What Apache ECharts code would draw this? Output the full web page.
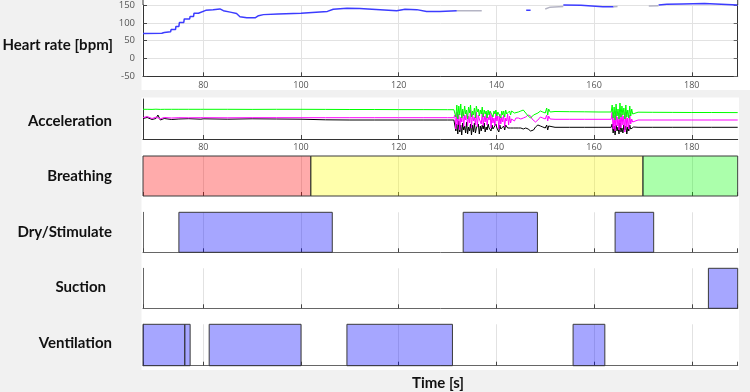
<!DOCTYPE html>
<html><head><meta charset="utf-8">
<script src="https://cdn.jsdelivr.net/npm/echarts@6/dist/echarts.min.js"></script>
<style>html,body{margin:0;padding:0;background:#f1f1f1}#c{width:750px;height:392px}</style>
</head><body><div id="c"></div>
<script>
// ---- axes ----
const xMin = 67.65, xMax = 189.4;
const xTickLabels = [80, 100, 120, 140, 160, 180];
const hrTicks = [-50, 0, 50, 100, 150];
const accRange = [0, 40];

// ---- heart rate [time, bpm]; null breaks the line ----
const hrBlue = [[67.65,70],[71.5,71],[71.6,73],[72,73],[72.1,75],[73.3,75],[73.4,81],[74.3,81],[74.4,90],[75,90],[75.1,101],[76,101],[76.1,111],[77.2,111],[77.3,118],[78,118],[78.1,127],[79,127],[79.1,132],[80.5,135],[82,137],[83.4,139],[84.1,134],[85.5,130],[86.8,126],[87,122],[87.5,117],[88.9,114],[90.6,114],[91.3,120],[92.3,123],[95.3,125],[100,127],[105.4,132],[106.6,138],[109.4,141],[112,140],[116.2,137],[119.6,134],[121.3,138],[123.7,137],[125.7,132],[128.4,132],[131.9,134],[140,null],[146.1,135],[147,135],[150,null],[153.7,150],[157.3,149],[161.8,145],[164,145],[168,null],[173.2,150],[174.9,152],[178,153],[182.6,154],[186,152],[189.4,150]];
const hrGray = [[131.9,134],[137,134],[140,null],[150,139],[151,144],[153.7,146],[158,null],[164,145],[164.8,146],[168,null],[171.2,147],[173.2,148]];

// ---- acceleration ----
const accT = [
 67.65,68.5,69.5,70.3,70.7,71.2,72,73.5,75,77,79.5,79.7,80,85,90,95,100,105,110,115,120,125,130,131.3,
 131.5,131.7,131.9,132.1,132.3,132.5,132.7,132.9,133.1,133.3,
 133.5,133.7,133.9,134.1,134.3,134.5,134.7,134.9,135.1,135.3,
 135.5,135.7,135.9,136.1,136.3,136.5,136.7,136.9,137.1,137.3,
 137.5,137.7,137.9,138.1,138.3,138.5,138.7,138.9,139.1,139.3,
 139.5,139.7,139.9,140.1,140.3,140.5,140.7,140.9,141.1,141.3,
 141.5,141.7,141.9,142.1,142.3,142.5,142.7,142.9,143.1,143.3,
 143.5,143.7,
 144,144.5,145,145.5,146,146.5,147,147.3,147.6,148,148.5,149,149.5,150,150.3,150.5,150.7,151,
 152,155,158,161,163.5,
 163.7,163.9,164.1,164.3,164.5,164.7,164.9,165.1,165.3,165.5,
 165.7,165.9,166.1,166.3,166.5,166.7,166.9,167.1,167.3,167.5,
 167.7,167.9,168.1,
 169,172,176,180,184,189.4];
const accGreen = [
 29.7,29.7,29.6,29.8,29.7,29.6,29.7,29.7,29.7,29.7,29.7,31.5,29.7,29.7,29.6,29.7,29.7,29.6,29.5,29.5,29.4,29.4,29.3,29.3,
 31,22,34,20,33,24,35,21,30,23,
 33,25,29,20,32,26,34,22,28,24,
 31,21,33,27,30,23,29,25,32,22,
 29,25,28,21,29,24,28,26,29,22,
 28,25,29,23,27,26,29,21,28,24,
 28,22,29,25,27,23,28,24,28,26,
 27,26,
 27,27,28,29,26,23,21,22,24,25,26,28,27,26,31,24,30,27,
 27.5,27.3,27.2,27,27,
 34,21,32,19,35,23,30,20,36,22,
 33,24,31,20,34,22,29,21,33,23,
 30,25,27,
 26.8,26.7,26.6,26.5,26.5,26.4];
const accMagenta = [
 21.3,22.5,20.5,21.8,23,20.2,21.5,21,21.3,21.2,21.3,21.3,21.3,21.2,21.3,21.3,21.3,21.3,21.3,21.3,21.3,21.3,21.3,21.3,
 24,10,27,14,25,9,22,17,28,12,
 24,19,26,13,23,16,29,11,25,18,
 22,14,27,12,24,20,21,15,26,13,
 23,17,25,14,22,19,27,11,24,16,
 21,13,26,18,23,10,25,15,22,17,
 24,12,21,18,25,14,23,16,20,19,
 22,18,
 21,21,20,21,22,24,23,20,18,17,19,22,21,20,24,18,23,20,
 19.7,19.7,19.7,19.7,19.7,
 27,10,24,8,28,13,22,9,26,11,
 25,14,23,7,27,12,21,10,24,15,
 20,17,19,
 19,19,19,19,19,19];
const accBlack = [
 20.5,21.5,19.5,20.5,24,19,20.5,19.5,20,20.3,19.8,20,20.2,19.8,20.2,20,19.8,19.2,19,19,19,19,19,19,
 17,8,15,5,18,7,14,4,16,9,
 13,6,17,5,12,8,15,4,14,7,
 16,6,11,9,15,5,13,8,14,10,
 16,7,12,9,15,11,13,8,14,10,
 12,9,15,11,13,7,14,10,12,11,
 13,9,14,12,11,10,13,11,12,12,
 11,12,
 11,11,11,10,11,10,8,6,9,12,14,13,12,11,14,9,13,11,
 11.7,11.7,11.7,11.7,11.7,
 15,6,13,4,14,8,12,5,16,7,
 11,6,14,9,13,5,12,8,14,10,
 12,11,12,
 11.7,11.7,11.7,11.7,11.7,11.7];

// ---- event intervals [s] ----
const breathingStart = [67.65, 102, 170];
const breathingEnd   = [102, 170, 189.4];
const breathingColors = ['rgba(255,0,0,0.33)', 'rgba(255,255,0,0.33)', 'rgba(0,255,0,0.33)'];
const dryStart = [75, 133.2, 164.3];
const dryEnd   = [106.4, 148.4, 172.2];
const suctionStart = [183.4];
const suctionEnd   = [189.4];
const ventStart = [67.65, 76.2, 81.2, 109.4, 155.7];
const ventEnd   = [76.2, 77.3, 100, 131, 162.2];

const panelLabels = ['Heart rate [bpm]', 'Acceleration', 'Breathing', 'Dry/Stimulate', 'Suction', 'Ventilation'];

// ---------------------------------------------------------------
const FONT = 'Open Sans';
const zip = (a, b) => a.map((v, i) => [v, b[i]]);
const intervals = (s, e) => s.map((v, i) => [v, e[i]]);

const grids = [
  {left: 143, top: 5, width: 594.7, height: 71.3},
  {left: 143, top: 99, width: 594.7, height: 40},
  {left: 143, top: 156, width: 594.7, height: 40},
  {left: 143, top: 212.3, width: 594.7, height: 40},
  {left: 143, top: 268.3, width: 594.7, height: 40},
  {left: 143, top: 324.3, width: 594.7, height: 41.4}
];

function makeX(gi, showLabel, margin, axisColor, showLine) {
  return {
    type: 'value', gridIndex: gi, min: xMin, max: xMax, splitNumber: 6,
    axisLine: {show: showLine, onZero: false, lineStyle: {color: axisColor, width: 1}},
    axisTick: {show: true, inside: true, length: 4, lineStyle: {color: '#444'}},
    axisLabel: {show: showLabel, fontSize: 9, color: '#555', fontFamily: FONT, margin: margin,
      showMinLabel: false, showMaxLabel: false,
      formatter: v => xTickLabels.indexOf(Math.round(v * 100) / 100) >= 0 ? String(v) : ''},
    splitLine: {show: true, showMinLine: false, showMaxLine: false, lineStyle: {color: '#e2e2e2', width: 1}}
  };
}
function makeY(gi, axisColor, showLine, range) {
  return {
    type: 'value', gridIndex: gi, min: range ? range[0] : 0, max: range ? range[1] : 1,
    axisLine: {show: showLine, onZero: false, lineStyle: {color: axisColor}},
    axisTick: {show: false}, axisLabel: {show: false}, splitLine: {show: false}
  };
}
function barRenderer(colors) {
  return function (params, api) {
    const s = api.value(0), e = api.value(1);
    const p0 = api.coord([s, 1]);
    const p1 = api.coord([e, 0]);
    return {
      type: 'rect',
      shape: {x: p0[0], y: p0[1], width: p1[0] - p0[0], height: p1[1] - p0[1]},
      style: {fill: colors ? colors[params.dataIndex] : 'rgba(0,0,255,0.35)', stroke: '#3a3a3a', lineWidth: 1}
    };
  };
}

const labelY = [45, 121, 176, 232, 287, 343];
const labelX = [113, 112, 112, 112, 106, 112];

const option = {
  backgroundColor: '#f1f1f1',
  animation: false,
  grid: grids,
  xAxis: [
    makeX(0, true, 5, '#333', true),
    makeX(1, true, 4, '#333', true),
    makeX(2, false, 4, '#555', false),
    makeX(3, false, 4, '#666', true),
    makeX(4, false, 4, '#666', true),
    makeX(5, false, 4, '#666', true)
  ],
  yAxis: [
    {type: 'value', gridIndex: 0, min: hrTicks[0], max: hrTicks[hrTicks.length - 1], interval: 50,
      axisLine: {show: true, onZero: false, lineStyle: {color: '#333'}},
      axisTick: {show: true, inside: true, length: 4, lineStyle: {color: '#444'}},
      axisLabel: {fontSize: 9.5, color: '#555', fontFamily: FONT, margin: 8},
      splitLine: {show: true, lineStyle: {color: '#e2e2e2'}}},
    {type: 'value', gridIndex: 0, position: 'right', min: hrTicks[0], max: hrTicks[hrTicks.length - 1], interval: 50,
      axisLine: {show: true, onZero: false, lineStyle: {color: '#333'}},
      axisTick: {show: true, inside: true, length: 4, lineStyle: {color: '#666'}},
      axisLabel: {show: false}, splitLine: {show: false}},
    makeY(1, '#333', true, accRange),
    makeY(2, '#555', false),
    makeY(3, '#666', true),
    makeY(4, '#666', true),
    makeY(5, '#666', true)
  ],
  graphic: [
    {type: 'rect', z: -100, shape: {x: 141.5, y: 0, width: 610, height: 90}, style: {fill: '#ffffff'}},
    {type: 'rect', z: -100, shape: {x: 141.5, y: 97.5, width: 597.5, height: 272.5}, style: {fill: '#ffffff'}},
    {type: 'line', z: 5, shape: {x1: 143, y1: 0, x2: 143, y2: 5}, style: {stroke: '#333', lineWidth: 1}},
    {type: 'line', z: 5, shape: {x1: 737.7, y1: 0, x2: 737.7, y2: 5}, style: {stroke: '#333', lineWidth: 1}},
    ...panelLabels.map((t, i) => ({type: 'text', z: 10,
      style: {text: t, x: labelX[i], y: labelY[i], textAlign: 'right', textVerticalAlign: 'middle',
        font: 'bold 15px Lato', fill: '#111'}})),
    {type: 'text', z: 10, style: {text: 'Time [s]', x: 438, y: 383, textAlign: 'center', textVerticalAlign: 'middle',
      font: 'bold 15px Lato', fill: '#111'}}
  ],
  series: [
    {type: 'line', xAxisIndex: 0, yAxisIndex: 0, data: hrBlue, showSymbol: false, clip: false, connectNulls: false,
      lineStyle: {color: '#3c3cff', width: 1.5}},
    {type: 'line', xAxisIndex: 0, yAxisIndex: 0, data: hrGray, showSymbol: false, clip: false, connectNulls: false,
      lineStyle: {color: '#b4b4c4', width: 1.5}},
    {type: 'line', xAxisIndex: 1, yAxisIndex: 2, data: zip(accT, accBlack), showSymbol: false,
      lineStyle: {color: '#000000', width: 1}},
    {type: 'line', xAxisIndex: 1, yAxisIndex: 2, data: zip(accT, accMagenta), showSymbol: false,
      lineStyle: {color: '#ff00ff', width: 1}},
    {type: 'line', xAxisIndex: 1, yAxisIndex: 2, data: zip(accT, accGreen), showSymbol: false,
      lineStyle: {color: '#00ff00', width: 1}},
    {type: 'custom', xAxisIndex: 2, yAxisIndex: 3, data: intervals(breathingStart, breathingEnd),
      renderItem: barRenderer(breathingColors)},
    {type: 'custom', xAxisIndex: 3, yAxisIndex: 4, data: intervals(dryStart, dryEnd), renderItem: barRenderer(null)},
    {type: 'custom', xAxisIndex: 4, yAxisIndex: 5, data: intervals(suctionStart, suctionEnd), renderItem: barRenderer(null)},
    {type: 'custom', xAxisIndex: 5, yAxisIndex: 6, data: intervals(ventStart, ventEnd), renderItem: barRenderer(null)}
  ]
};
const chart = echarts.init(document.getElementById('c'), null, {renderer: 'canvas'});
chart.setOption(option);
</script></body></html>
